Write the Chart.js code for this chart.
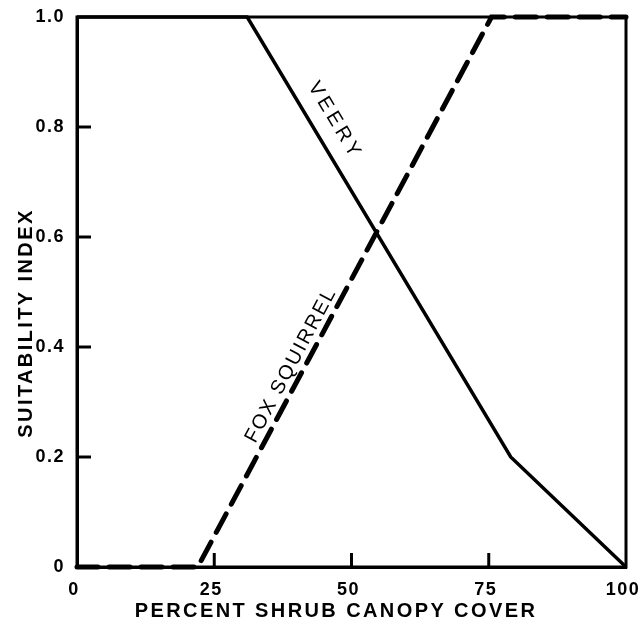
<!DOCTYPE html>
<html>
<head>
<meta charset="utf-8">
<script src="https://cdn.jsdelivr.net/npm/chart.js@4.4.0/dist/chart.umd.min.js"></script>
<style>
  html, body { margin: 0; padding: 0; background: #fff; }
  #wrap { width: 643px; height: 630px; }
</style>
</head>
<body>
<div id="wrap"><canvas id="chart" width="643" height="630"></canvas></div>
<script>
// Veery and fox squirrel suitability curves
const veeryX = [0, 31, 79, 100];
const veeryY = [1.0, 1.0, 0.2, 0];
const foxX = [0, 22, 75.5, 100];
const foxY = [0, 0, 1.0, 1.0];

const xTicks = [0, 25, 50, 75, 100];
const yTicks = [0, 0.2, 0.4, 0.6, 0.8, 1.0];
const xTitle = 'PERCENT SHRUB CANOPY COVER';
const yTitle = 'SUITABILITY INDEX';

// curve labels: centre in data units, angle taken from a segment of the curve
const curveLabels = [
    { text: 'VEERY', x: 47, y: 0.811, seg: 0, from: 1, spacing: 4 },
    { text: 'FOX SQUIRREL', x: 39.0, y: 0.367, seg: 1, from: 1, spacing: 2 }
];

function toPoints(xs, ys) {
    return xs.map((x, i) => ({ x: x, y: ys[i] }));
}

const FONT = '"Liberation Sans", Arial, sans-serif';

const textPlugin = {
    id: 'textSpacing',
    beforeDraw(chart) {
        chart.ctx.letterSpacing = '1.5px';
    }
};

// frame, inward tick marks, axis titles and the slanted curve labels
const framePlugin = {
    id: 'frame',
    afterDatasetsDraw(chart) {
        const ctx = chart.ctx;
        const a = chart.chartArea;
        const xs = chart.scales.x;
        const ys = chart.scales.y;
        ctx.save();
        ctx.strokeStyle = '#000';
        ctx.lineWidth = 3;
        ctx.lineCap = 'square';
        ctx.strokeRect(a.left, a.top, a.right - a.left, a.bottom - a.top);

        ctx.lineCap = 'butt';
        xTicks.slice(1, -1).forEach(v => {
            const px = xs.getPixelForValue(v);
            ctx.beginPath();
            ctx.moveTo(px, a.bottom);
            ctx.lineTo(px, a.bottom - 14);
            ctx.stroke();
        });
        yTicks.slice(1, -1).forEach(v => {
            const py = ys.getPixelForValue(v);
            ctx.beginPath();
            ctx.moveTo(a.left, py);
            ctx.lineTo(a.left + 14, py);
            ctx.stroke();
        });

        ctx.fillStyle = '#000';
        ctx.textAlign = 'center';
        ctx.textBaseline = 'middle';

        // axis titles
        ctx.font = 'bold 20px ' + FONT;
        ctx.letterSpacing = '2.4px';
        ctx.fillText(xTitle, a.left + 259, 611);
        ctx.save();
        ctx.translate(26, a.top + 306);
        ctx.rotate(-Math.PI / 2);
        ctx.fillText(yTitle, 0, 0);
        ctx.restore();

        // curve labels
        ctx.font = '20px ' + FONT;
        curveLabels.forEach(l => {
            const pts = chart.getDatasetMeta(l.seg).data;
            const p0 = pts[l.from], p1 = pts[l.from + 1];
            let ang = Math.atan2(p1.y - p0.y, p1.x - p0.x);
            if (ang > Math.PI / 2) ang -= Math.PI;
            if (ang < -Math.PI / 2) ang += Math.PI;
            ctx.save();
            ctx.letterSpacing = l.spacing + 'px';
            ctx.translate(xs.getPixelForValue(l.x), ys.getPixelForValue(l.y));
            ctx.rotate(ang);
            ctx.fillText(l.text, 0, 0);
            ctx.restore();
        });
        ctx.restore();
    }
};

const tickFont = { family: FONT, size: 18, weight: 'bold' };

new Chart(document.getElementById('chart'), {
    type: 'line',
    data: {
        datasets: [
            {
                label: 'Veery',
                data: toPoints(veeryX, veeryY),
                borderColor: '#000',
                borderWidth: 3.5,
                pointRadius: 0,
                tension: 0,
                fill: false,
                clip: false
            },
            {
                label: 'Fox squirrel',
                data: toPoints(foxX, foxY),
                borderColor: '#000',
                borderWidth: 5,
                borderDash: [21, 11],
                borderCapStyle: 'round',
                pointRadius: 0,
                tension: 0,
                fill: false,
                clip: false
            }
        ]
    },
    options: {
        responsive: false,
        animation: false,
        layout: { padding: { top: 17, right: 17, left: 0, bottom: 0 } },
        plugins: {
            legend: { display: false },
            tooltip: { enabled: false }
        },
        scales: {
            x: {
                type: 'linear',
                min: 0,
                max: 100,
                grid: { display: false, drawTicks: false },
                border: { display: true, color: '#000', width: 3 },
                afterBuildTicks: s => { s.ticks = xTicks.map(v => ({ value: v })); },
                afterFit: s => {
                    s.height = 63;
                    s.paddingLeft = 0;
                    s.paddingRight = 0;
                },
                ticks: {
                    color: '#000',
                    font: tickFont,
                    padding: 12,
                    labelOffset: -3,
                    maxRotation: 0,
                    callback: v => String(v)
                }
            },
            y: {
                type: 'linear',
                min: 0,
                max: 1,
                grid: { display: false, drawTicks: false },
                border: { display: true, color: '#000', width: 3 },
                afterBuildTicks: s => { s.ticks = yTicks.map(v => ({ value: v })); },
                afterFit: s => {
                    s.width = 77;
                    s.paddingTop = 0;
                    s.paddingBottom = 0;
                },
                ticks: {
                    color: '#000',
                    font: tickFont,
                    padding: 12,
                    callback: v => (v === 0 ? '0' : v.toFixed(1))
                }
            }
        }
    },
    plugins: [textPlugin, framePlugin]
});
</script>
</body>
</html>
